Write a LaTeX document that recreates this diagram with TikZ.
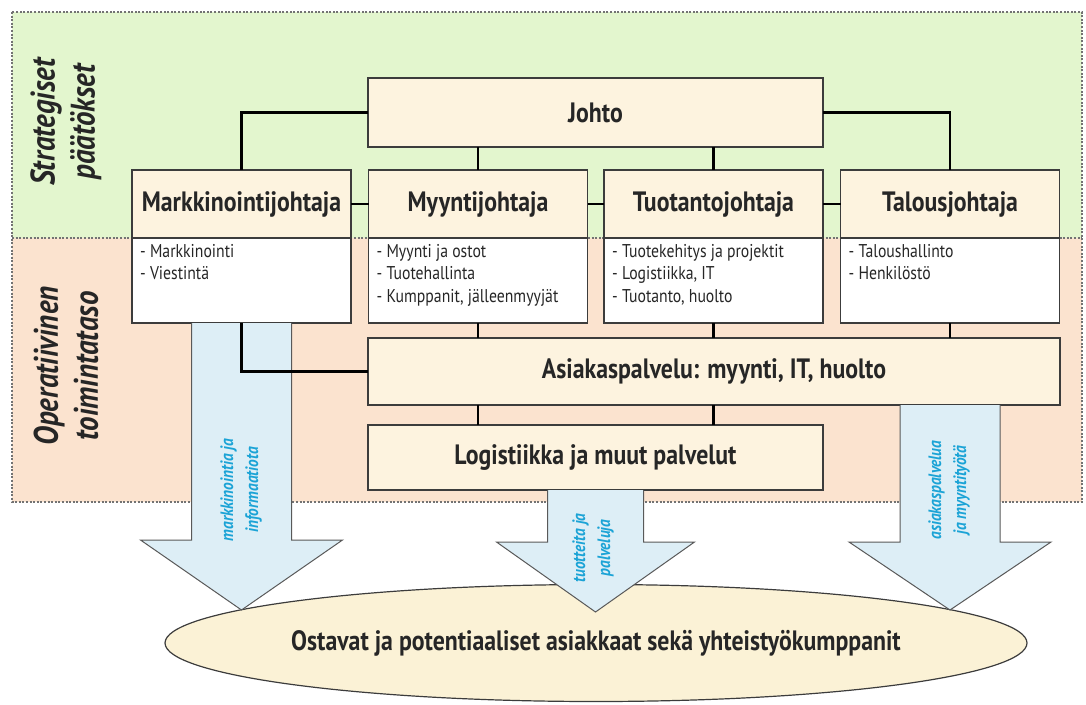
\documentclass[tikz,border=0pt]{standalone}
\usepackage{fontspec}
\setmainfont{PT Sans}[FakeStretch=0.85]
\usepackage{xcolor}
\usetikzlibrary{positioning,shapes.geometric}
\definecolor{stratgreen}{HTML}{E3F6CE}
\definecolor{operpeach}{HTML}{FBE3CF}
\definecolor{headcream}{HTML}{FDF3DF}
\definecolor{flowblue}{HTML}{DDEEF6}
\definecolor{flowtext}{HTML}{1BA3D6}
\definecolor{custcream}{HTML}{FBF2D6}
\definecolor{edgegray}{HTML}{3C3C3C}

\begin{document}
\begin{tikzpicture}[x=1pt,y=-1pt,
  head/.style={draw=edgegray, line width=1.4pt, fill=headcream, outer sep=0pt,
               minimum width=219pt, minimum height=68pt, inner sep=0pt,
               font=\fontsize{28}{30}\selectfont\bfseries, text=black!85},
  body/.style={draw=edgegray, line width=1.4pt, fill=white, outer sep=0pt,
               minimum width=219pt, minimum height=85pt, inner sep=0pt},
  duty/.style={align=left, inner sep=0pt, text=black!85,
               font=\fontsize{18.5}{22.5}\selectfont},
  unit/.style={draw=edgegray, line width=1.4pt, fill=headcream, outer sep=0pt,
               inner sep=0pt, font=\fontsize{28}{30}\selectfont\bfseries, text=black!85},
  conn/.style={line width=2.2pt, black},
  flow/.style={draw=edgegray!85, line width=1pt, fill=flowblue, line join=miter},
  flowlbl/.style={rotate=90, align=center, inner sep=0pt, text=flowtext,
                  font=\fontsize{18}{25}\selectfont\bfseries\itshape},
  level/.style={rotate=90, align=center, inner sep=0pt, text=black!85,
                font=\fontsize{34}{40}\selectfont\bfseries\itshape},
  zone/.style={draw=black!55, line width=1.8pt, dash pattern=on 2pt off 1.6pt}]
\useasboundingbox (0,0) rectangle (1086,704);
% --- levels ---
\fill[stratgreen] (12,12) rectangle (1082,238);
\fill[operpeach] (12,238) rectangle (1082,502);
\draw[zone] (12,12) rectangle (1082,502);
\draw[zone] (12,238) -- (1082,238);
\node[level] (strat) at (66,122) {Strategiset\\päätökset};
\node[level] (oper) at (66,366) {Operatiivinen\\toimintataso};
% --- customers ---
\node[ellipse, draw=edgegray, line width=1.2pt, fill=custcream, minimum width=857pt,
  minimum height=117pt, inner sep=0pt, font=\fontsize{28}{30}\selectfont\bfseries,
  text=black!85] (cust) at (596,643)
  {Ostavat ja potentiaaliset asiakkaat sekä yhteistyökumppanit};
% --- management ---
\node[unit, minimum width=455pt, minimum height=69pt] (johto) at (595.5,112.5) {Johto};
\node[head] (mk) at (241.5,204) {Markkinointijohtaja};
\node[head] (my) at (478,204) {Myyntijohtaja};
\node[head] (tu) at (713.5,204) {Tuotantojohtaja};
\node[head] (ta) at (950,204) {Talousjohtaja};
\node[body, below=0pt of mk] (mkb) {};
\node[body, below=0pt of my] (myb) {};
\node[body, below=0pt of tu] (tub) {};
\node[body, below=0pt of ta] (tab) {};
\foreach \h in {mk,my,tu,ta}
  \draw[line width=2.6pt, edgegray] (\h.south west) -- (\h.south east);
\node[duty, anchor=north west, below right=6pt and 8pt of mkb.north west] (mkd)
  {- Markkinointi\\- Viestintä};
\node[duty, anchor=north west, below right=6pt and 8pt of myb.north west] (myd)
  {- Myynti ja ostot\\- Tuotehallinta\\- Kumppanit, jälleenmyyjät};
\node[duty, anchor=north west, below right=6pt and 8pt of tub.north west] (tud)
  {- Tuotekehitys ja projektit\\- Logistiikka, IT\\- Tuotanto, huolto};
\node[duty, anchor=north west, below right=6pt and 8pt of tab.north west] (tad)
  {- Taloushallinto\\- Henkilöstö};
% --- operations ---
\node[unit, minimum width=692pt, minimum height=67pt] (asp) at (714,371.5)
  {Asiakaspalvelu: myynti, IT, huolto};
\node[unit, minimum width=455pt, minimum height=65pt] (log) at (595.5,457.5)
  {Logistiikka ja muut palvelut};
% --- flows to customers ---
\coordinate (ra) at (tab.south |- asp.south);
\draw[flow] ([xshift=-50pt]mkb.south) -- ++(0,217) -- ++(-51,0) -- ++(101,70)
  -- ++(101,-70) -- ++(-51,0) -- ([xshift=50pt]mkb.south);
\draw[flow] ([xshift=-48pt]log.south) -- ++(0,52) -- ++(-51,0) -- ++(99,70)
  -- ++(99,-70) -- ++(-51,0) -- ([xshift=48pt]log.south);
\draw[flow] ([xshift=-50pt]ra) -- ++(0,137) -- ++(-51,0) -- ++(101,68)
  -- ++(101,-68) -- ++(-51,0) -- ([xshift=50pt]ra);
\node[flowlbl] (fl1) at (241,490) {markkinointia ja\\informaatiota};
\node[flowlbl] (fl2) at (593,548) {tuotteita ja\\palveluja};
\node[flowlbl] (fl3) at (949,490) {asiakaspalvelua\\ja myyntityötä};
% --- connectors ---
\draw[conn] (johto.west) -| (mk.north);
\draw[conn] (johto.east) -| (ta.north);
\draw[conn] (johto.south -| my.north) -- (my.north);
\draw[conn] (johto.south -| tu.north) -- (tu.north);
\draw[conn] (mk.east) -- (my.west);
\draw[conn] (my.east) -- (tu.west);
\draw[conn] (tu.east) -- (ta.west);
\draw[conn] (mkb.south) |- (asp.west);
\draw[conn] (myb.south) -- (myb.south |- asp.north);
\draw[conn] (tub.south) -- (tub.south |- asp.north);
\draw[conn] (tab.south) -- (tab.south |- asp.north);
\draw[conn] (asp.south -| my.south) -- (log.north -| my.south);
\draw[conn] (asp.south -| tu.south) -- (log.north -| tu.south);
\end{tikzpicture}
\end{document}
